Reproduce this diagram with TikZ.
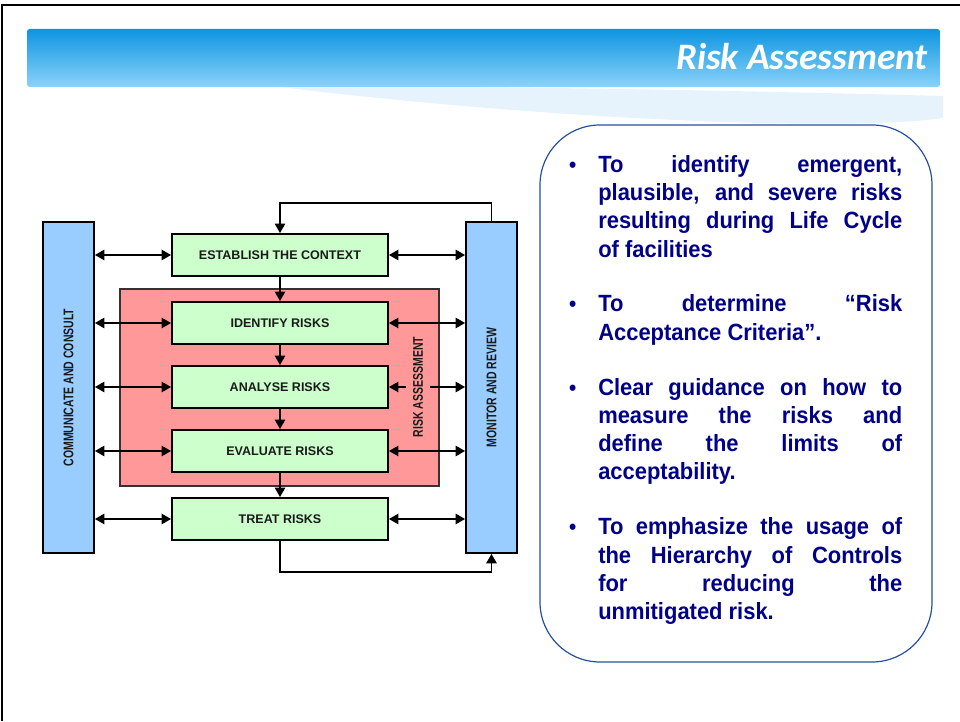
\documentclass[tikz,border=0pt]{standalone}
\usepackage{fontspec}
\usetikzlibrary{arrows}
\newfontfamily\arialfont{Liberation Sans}
\newfontfamily\narrowfont{Liberation Sans}[FakeStretch=0.75]
\newfontfamily\goalfont{Liberation Sans}[FakeStretch=0.935]
\newfontfamily\titlefont{Carlito}

\definecolor{boxgreen}{HTML}{CCFFCC}
\definecolor{riskred}{HTML}{FF9999}
\definecolor{barblue}{HTML}{99CCFF}
\definecolor{titletop}{HTML}{0E95E0}
\definecolor{titlebottom}{HTML}{8AD3FB}
\definecolor{swoosh}{HTML}{E6F3FC}
\definecolor{aimsblue}{HTML}{2850A0}
\definecolor{navytext}{HTML}{000088}
\definecolor{labeldark}{HTML}{1A1A1A}

\newcommand{\aimbullet}{\llap{{\fontsize{16.5}{16.5}\selectfont\textbullet}\hspace{16.5pt}}}

\tikzset{
  stepbox/.style={draw=black, line width=1.5pt, fill=boxgreen,
    minimum width=162pt, minimum height=31.5pt, text=labeldark,
    font=\arialfont\bfseries\fontsize{9.4}{11}\selectfont},
  sidebar/.style={draw=black, line width=1.5pt, fill=barblue, rotate=90,
    minimum width=248.25pt, minimum height=38.25pt, text=labeldark,
    font=\narrowfont\bfseries\fontsize{10.5}{12}\selectfont},
}

\begin{document}
\begin{tikzpicture}[x=0.75pt, y=0.75pt]
 \useasboundingbox (0,0) rectangle (960,721);
 %the frame
    \draw[line width=1.8pt] (2,0) -- (2,716) -- (960,716);
 %the title band
    \fill[swoosh] (150,634) .. controls (450,637) and (750,630) .. (943,625)
       -- (943,603) .. controls (850,589) and (550,601) .. (280,634) -- cycle;
    \shade[top color=titletop, bottom color=titlebottom, rounded corners=2pt]
       (27,634) rectangle (940,692);
    \node[anchor=east, inner sep=0pt, text=white, font=\titlefont\bfseries\itshape\fontsize{28}{32}\selectfont]
       (title) at (928,664) {Risk Assessment};

 %the risk assessment block
    \node[draw=black!80, line width=1.2pt, fill=riskred,
       minimum width=239.25pt, minimum height=147.75pt] (risk) at (279.5,333.5) {};

    %the steps
    \node[stepbox] (est) at (280,466) {ESTABLISH THE CONTEXT};
    \node[stepbox] (iden) at (280,398) {IDENTIFY RISKS};
    \node[stepbox] (anal) at (280,334) {ANALYSE RISKS};
    \node[stepbox] (eval) at (280,270) {EVALUATE RISKS};
    \node[stepbox] (treat) at (280,202) {TREAT RISKS};

    %the side bars
    \node[sidebar] (comm) at (68.5,333.5) {COMMUNICATE AND CONSULT};
    \node[sidebar] (mon) at (491.5,333.5) {MONITOR AND REVIEW};

    %the arrows
    \begin{scope}[every path/.style={triangle 60-triangle 60, line width=0.9pt}]
       \foreach \s in {est,iden,anal,eval,treat} {
          \draw (comm.south |- \s.west) -- (\s.west);
          \draw (\s.east) -- (mon.north |- \s.east);
       }
    \end{scope}
    \begin{scope}[every path/.style={-triangle 60, line width=0.9pt}]
       \draw (est.south) -- (iden.north);
       \draw (iden.south) -- (anal.north);
       \draw (anal.south) -- (eval.north);
       \draw (eval.south) -- (treat.north);
       \draw (mon.east) -- ++(0,18) -| (est.north);
       \draw (treat.south) -- ++(0,-31) -| (mon.west);
    \end{scope}
    \node[rotate=90, fill=riskred, inner sep=5pt, text=labeldark,
       font=\narrowfont\bfseries\fontsize{10.5}{12}\selectfont] (risklabel) at (418,334) {RISK ASSESSMENT};

 %the aims
    \node[draw=aimsblue, line width=0.9pt, rounded corners=45pt,
       minimum width=294pt, minimum height=402.75pt] (aims) at (736,327.5) {};
    \node[anchor=north west, inner sep=0pt, text width=228pt, align=justify, text=navytext,
       font=\goalfont\bfseries\fontsize{17.6}{21.2}\selectfont] (goals) at (598,566)
       {\aimbullet To identify emergent,\linebreak plausible, and severe risks\linebreak resulting during Life Cycle\linebreak of facilities\\[20pt]
        \aimbullet To determine “Risk\linebreak Acceptance Criteria”.\\[20pt]
        \aimbullet Clear guidance on how to\linebreak measure the risks and\linebreak define the limits of\linebreak acceptability.\\[20pt]
        \aimbullet To emphasize the usage of\linebreak the Hierarchy of Controls\linebreak for reducing the\linebreak unmitigated risk.};
\end{tikzpicture}
\end{document}
